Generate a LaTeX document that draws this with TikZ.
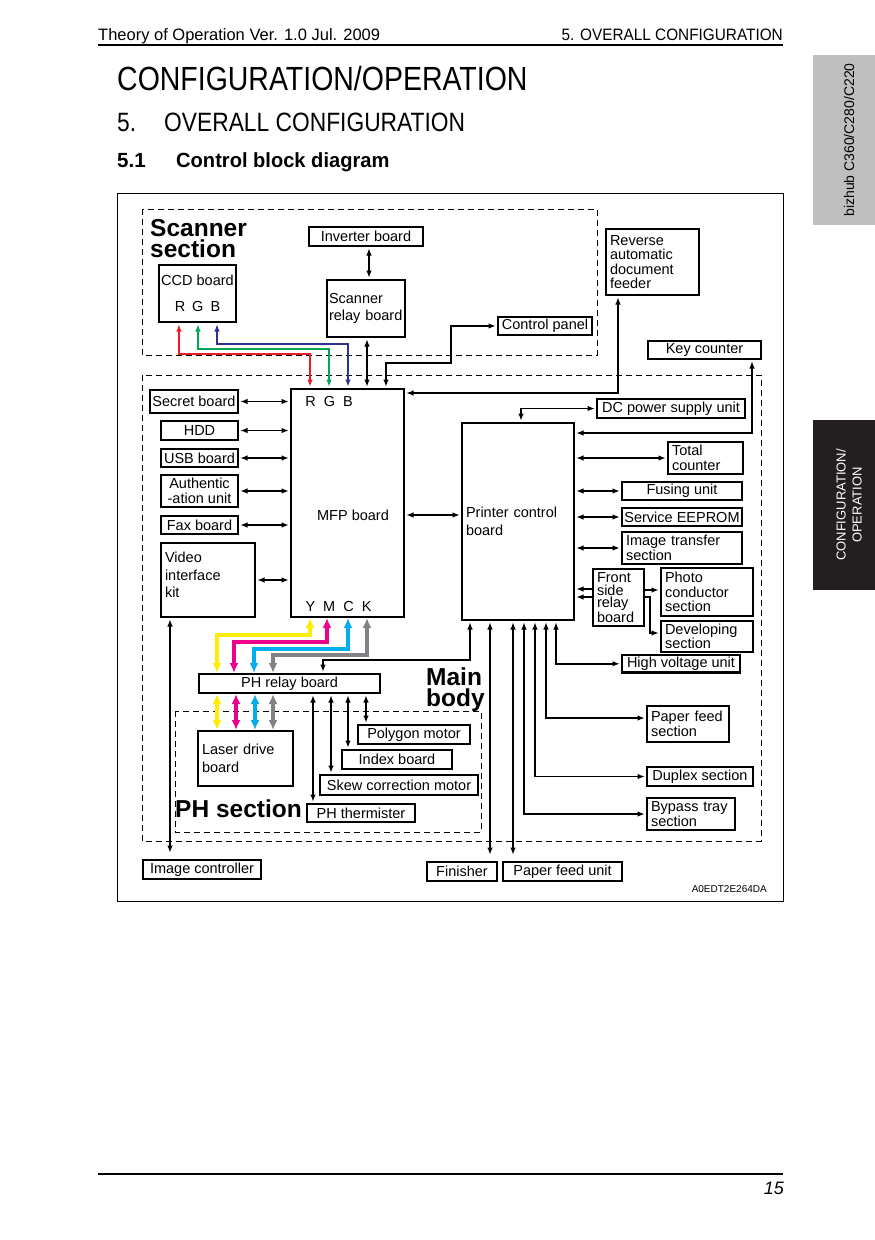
\documentclass[tikz,border=0pt]{standalone}
\usepackage{fontspec}
\setmainfont{Liberation Sans}
\usepackage{tikz}
\usetikzlibrary{arrows.meta}

\definecolor{wireR}{RGB}{237,28,36}
\definecolor{wireG}{RGB}{0,166,81}
\definecolor{wireB}{RGB}{46,49,146}
\definecolor{inkY}{RGB}{255,237,0}
\definecolor{inkM}{RGB}{236,0,140}
\definecolor{inkC}{RGB}{0,174,239}
\definecolor{inkK}{RGB}{128,130,133}
\definecolor{tabgray}{RGB}{191,191,191}
\definecolor{tabblack}{RGB}{35,31,32}

\newcommand\diagfont{\fontsize{14.5}{14.5}\selectfont}
\newcommand\groupfont{\fontsize{24.5}{21}\selectfont\bfseries}

\tikzset{
  box/.style={draw, line width=1.6pt, inner sep=2pt, outer sep=0pt, anchor=north west, font=\diagfont, align=center},
  bx/.style 2 args={box, minimum width=#1pt, minimum height=#2pt},
  lbx/.style 2 args={bx={#1}{#2}, align=left, inner xsep=4pt,
    /utils/exec={\pgfmathsetlengthmacro\lbxwidth{#1pt-8pt}}, text width=\lbxwidth},
  heavy/.style={line width=2.7pt},
  lbl/.style={font=\diagfont, inner sep=0pt},
  grouplabel/.style={anchor=north west, inner sep=0pt, align=left, font=\groupfont},
  zone/.style={dash pattern=on 6pt off 4pt, line width=0.9pt},
  wire/.style={line width=1.7pt, {Latex[length=7.5pt,width=5.5pt]}-{Latex[length=7.5pt,width=5.5pt]}, shorten <=2pt, shorten >=2pt},
  onewire/.style={line width=1.7pt, -{Latex[length=7.5pt,width=5.5pt]}, shorten >=2pt},
  rgbwire/.style={wire, line width=1.6pt},
  inkwire/.style={line width=3.6pt, {Latex[length=10pt,width=9pt]}-{Latex[length=10pt,width=9pt]}, shorten <=1pt, shorten >=1pt},
}

\begin{document}
\begin{tikzpicture}[x=1pt,y=-1pt]
  \useasboundingbox (0,0) rectangle (875,1240);
  \fill[white] (0,0) rectangle (875,1240);

  % page head
  \node[anchor=base west, inner sep=0pt, font=\fontsize{16.5}{18}\selectfont] (runhead) at (98,40) {Theory of Operation Ver. 1.0 Jul. 2009};
  \node[anchor=base east, inner sep=0pt, font=\fontsize{16.5}{18}\selectfont] (runsect) at (783,40) {\scalebox{0.93}[1]{5. OVERALL CONFIGURATION}};
  \draw[line width=1.8pt] (98,45) -- (783,45);
  \node[anchor=base west, inner sep=0pt] (chap) at (117,90) {\scalebox{0.85}[1]{\fontsize{33.5}{36}\selectfont CONFIGURATION/OPERATION}};
  \node[anchor=base west, inner sep=0pt] (secnum) at (117,131) {\scalebox{0.86}[1]{\fontsize{26.5}{28}\selectfont 5.}};
  \node[anchor=base west, inner sep=0pt] (sec) at (164,131) {\scalebox{0.86}[1]{\fontsize{26.5}{28}\selectfont OVERALL CONFIGURATION}};
  \node[anchor=base west, inner sep=0pt, font=\fontsize{20.5}{22}\selectfont\bfseries] (subnum) at (117,167) {5.1};
  \node[anchor=base west, inner sep=0pt, font=\fontsize{20.5}{22}\selectfont\bfseries] (sub) at (176,167) {\scalebox{0.98}[1]{Control block diagram}};

  % side tabs
  \fill[tabgray] (813,55) rectangle (875,225);
  \node[rotate=90, font=\fontsize{14}{16}\selectfont] (tabmodel) at (849,140) {bizhub C360/C280/C220};
  \fill[tabblack] (813,420) rectangle (875,590);
  \node[rotate=90, text=white, align=center, font=\fontsize{13}{16}\selectfont] (tabchap) at (849,505) {CONFIGURATION/\\OPERATION};

  % frame and zones
  \draw[line width=0.9pt] (117,193) rectangle (783,901);
  \draw[zone] (142,209) rectangle (597,355);
  \draw[zone] (142,375) rectangle (761,841);
  \draw[zone] (175,711) rectangle (481,832);
  \node[grouplabel] (scanlbl) at (150,219) {Scanner\\section};
  \node[grouplabel] (mainlbl) at (426,668) {Main\\body};
  \node[grouplabel, anchor=base west] (phlbl) at (175,817) {PH section};

  % scanner section
  \node[bx={114}{19}] (inv) at (309,227) {Inverter board};
  \node[bx={77}{57}] (ccd) at (159,265) {CCD board\\[12pt]R\hspace{7pt}G\hspace{7pt}B};
  \node[lbx={78}{57}, inner xsep=2pt, text width=74pt] (srb) at (327,280) {Scanner\\[3pt]relay board};
  \node[lbx={93}{66}] (radf) at (606,229) {Reverse\\automatic\\document\\feeder};
  \node[bx={94}{18}] (cp) at (498,317) {Control panel};
  \node[bx={113}{18}] (key) at (648,341) {Key counter};

  % main body
  \node[bx={88}{23}] (secret) at (150,390) {Secret board};
  \node[bx={77}{19}] (hdd) at (161,421) {HDD};
  \node[bx={77}{18}] (usb) at (161,449) {USB board};
  \node[bx={77}{32}] (auth) at (161,475) {Authentic\\-ation unit};
  \node[bx={77}{18}] (fax) at (161,516) {Fax board};
  \node[lbx={94}{74}] (video) at (161,543) {Video\\[3pt]interface\\[3pt]kit\\[-4pt]\mbox{}};
  \node[bx={113}{228}] (mfp) at (291,389) {};
  \node[lbl] (mfprgb) at (329,402) {R\hspace{8pt}G\hspace{8pt}B};
  \node[lbl] (mfptxt) at (353,515) {MFP board};
  \node[lbl] (mfpymck) at (338.5,606) {Y\hspace{8pt}M\hspace{8pt}C\hspace{8pt}K};

  \node[lbx={112}{197}] (pcb) at (462,423) {Printer control\\[3pt]board};
  \node[bx={148}{19}] (dc) at (597,399) {DC power supply unit};
  \node[lbx={75}{32}] (total) at (668,442) {Total\\counter};
  \node[bx={120}{18}, heavy] (fusing) at (622,482) {Fusing unit};
  \node[bx={120}{18}, heavy] (eeprom) at (622,508) {Service EEPROM};
  \node[lbx={120}{32}, heavy] (transfer) at (622,532) {Image transfer\\section};
  \node[lbx={51}{57}, font=\fontsize{14.5}{12.5}\selectfont] (fsrb) at (593,569) {Front\\side\\relay\\board};
  \node[lbx={92}{48}, heavy] (photo) at (661,568) {Photo\\conductor\\section};
  \node[lbx={92}{31}, heavy] (dev) at (661,621) {Developing\\section};
  \node[bx={118}{17}, heavy] (hv) at (622,655) {High voltage unit};
  \node[lbx={82}{36}] (pfs) at (647,706) {Paper feed\\section};
  \node[bx={106}{19}] (dup) at (647,767) {Duplex section};
  \node[lbx={88}{32}] (bypass) at (647,798) {Bypass tray\\section};

  % PH section
  \node[bx={181}{19}] (phr) at (199,674) {PH relay board};
  \node[lbx={95}{55}] (ldb) at (198,731) {Laser drive\\[3.5pt]board};
  \node[bx={112}{19}] (poly) at (358,725) {Polygon motor};
  \node[bx={110}{19}] (index) at (342,750) {Index board};
  \node[bx={158}{20}] (skew) at (320,775) {Skew correction motor};
  \node[bx={108}{18}] (therm) at (307,804) {PH thermister};

  % outside
  \node[bx={118}{19}] (imgc) at (143,860) {Image controller};
  \node[bx={70}{19}] (fin) at (427,862) {Finisher};
  \node[bx={119}{19}] (pfu) at (503,862) {Paper feed unit};
  \node[anchor=base east, inner sep=0pt, font=\fontsize{10}{12}\selectfont] (figcode) at (767,892) {A0EDT2E264DA};

  % scanner wires
  \draw[rgbwire, wireR] (179,0 |- ccd.south) |- (310,354) -- (310,0 |- mfp.north);
  \draw[rgbwire, wireG] (198,0 |- ccd.south) |- (329,349) -- (329,0 |- mfp.north);
  \draw[rgbwire, wireB] (217,0 |- ccd.south) |- (348,344) -- (348,0 |- mfp.north);
  \draw[wire] (369,0 |- inv.south) -- (369,0 |- srb.north);
  \draw[wire] (367,0 |- srb.south) -- (367,0 |- mfp.north);
  \draw[wire] (386,0 |- mfp.north) |- (451,363) |- (cp.west);
  \draw[wire] (618,0 |- radf.south) |- (mfp.east |- 0,393);
  \draw[wire] (752,0 |- key.south) |- (pcb.east |- 0,433);
  \draw[wire] (521,0 |- pcb.north) |- (dc.west);

  % MFP board
  \draw[wire] (secret.east) -- (mfp.west |- secret.east);
  \draw[wire] (hdd.east) -- (mfp.west |- hdd.east);
  \draw[wire] (usb.east) -- (mfp.west |- usb.east);
  \draw[wire] (auth.east) -- (mfp.west |- auth.east);
  \draw[wire] (fax.east) -- (mfp.west |- fax.east);
  \draw[wire] (video.east) -- (mfp.west |- video.east);
  \draw[wire] (mfp.east |- 0,515) -- (pcb.west |- 0,515);
  \draw[wire, shorten >=7pt] (170,0 |- video.south) -- (170,0 |- imgc.north);

  % printer control board
  \draw[wire] (pcb.east |- total.west) -- (total.west);
  \draw[wire] (pcb.east |- fusing.west) -- (fusing.west);
  \draw[wire] (pcb.east |- eeprom.west) -- (eeprom.west);
  \draw[wire] (pcb.east |- transfer.west) -- (transfer.west);
  \draw[onewire] (fsrb.west |- 0,589) -- (pcb.east |- 0,589);
  \draw[onewire] (fsrb.west |- 0,597) -- (pcb.east |- 0,597);
  \draw[onewire] (fsrb.east |- 0,590) -- (photo.west |- 0,590);
  \draw[onewire] (fsrb.east |- 0,597) -| (650,633) -- (dev.west |- 0,633);
  \draw[wire] (556,0 |- pcb.south) |- (hv.west);
  \draw[wire] (546,0 |- pcb.south) |- (pfs.west |- 0,718);
  \draw[wire] (535,0 |- pcb.south) |- (dup.west);
  \draw[wire] (524,0 |- pcb.south) |- (bypass.west);
  \draw[wire, shorten >=7pt] (513,0 |- pcb.south) -- (513,0 |- pfu.north);
  \draw[wire, shorten >=7pt] (490,0 |- pcb.south) -- (490,0 |- fin.north);
  \draw[wire] (470,0 |- pcb.south) |- (323,660) -- (323,0 |- phr.north);

  % image data
  \draw[inkwire, inkY] (310,0 |- mfp.south) |- (217,635) -- (217,0 |- phr.north);
  \draw[inkwire, inkM] (327,0 |- mfp.south) |- (234,642) -- (234,0 |- phr.north);
  \draw[inkwire, inkC] (348,0 |- mfp.south) |- (254,649) -- (254,0 |- phr.north);
  \draw[inkwire, inkK] (367,0 |- mfp.south) |- (273,655) -- (273,0 |- phr.north);
  \draw[inkwire, inkY] (217,0 |- phr.south) -- (217,0 |- ldb.north);
  \draw[inkwire, inkM] (236,0 |- phr.south) -- (236,0 |- ldb.north);
  \draw[inkwire, inkC] (255,0 |- phr.south) -- (255,0 |- ldb.north);
  \draw[inkwire, inkK] (273,0 |- phr.south) -- (273,0 |- ldb.north);

  % PH relay board
  \draw[wire] (313,0 |- phr.south) -- (313,0 |- therm.north);
  \draw[wire] (331,0 |- phr.south) -- (331,0 |- skew.north);
  \draw[wire] (348,0 |- phr.south) -- (348,0 |- index.north);
  \draw[wire] (366,0 |- phr.south) -- (366,0 |- poly.north);

  % page foot
  \draw[line width=1.2pt] (98,1174) -- (783,1174);
  \node[anchor=base east, inner sep=0pt, font=\fontsize{18}{20}\selectfont\itshape] (pagenum) at (784,1194) {15};
\end{tikzpicture}
\end{document}
